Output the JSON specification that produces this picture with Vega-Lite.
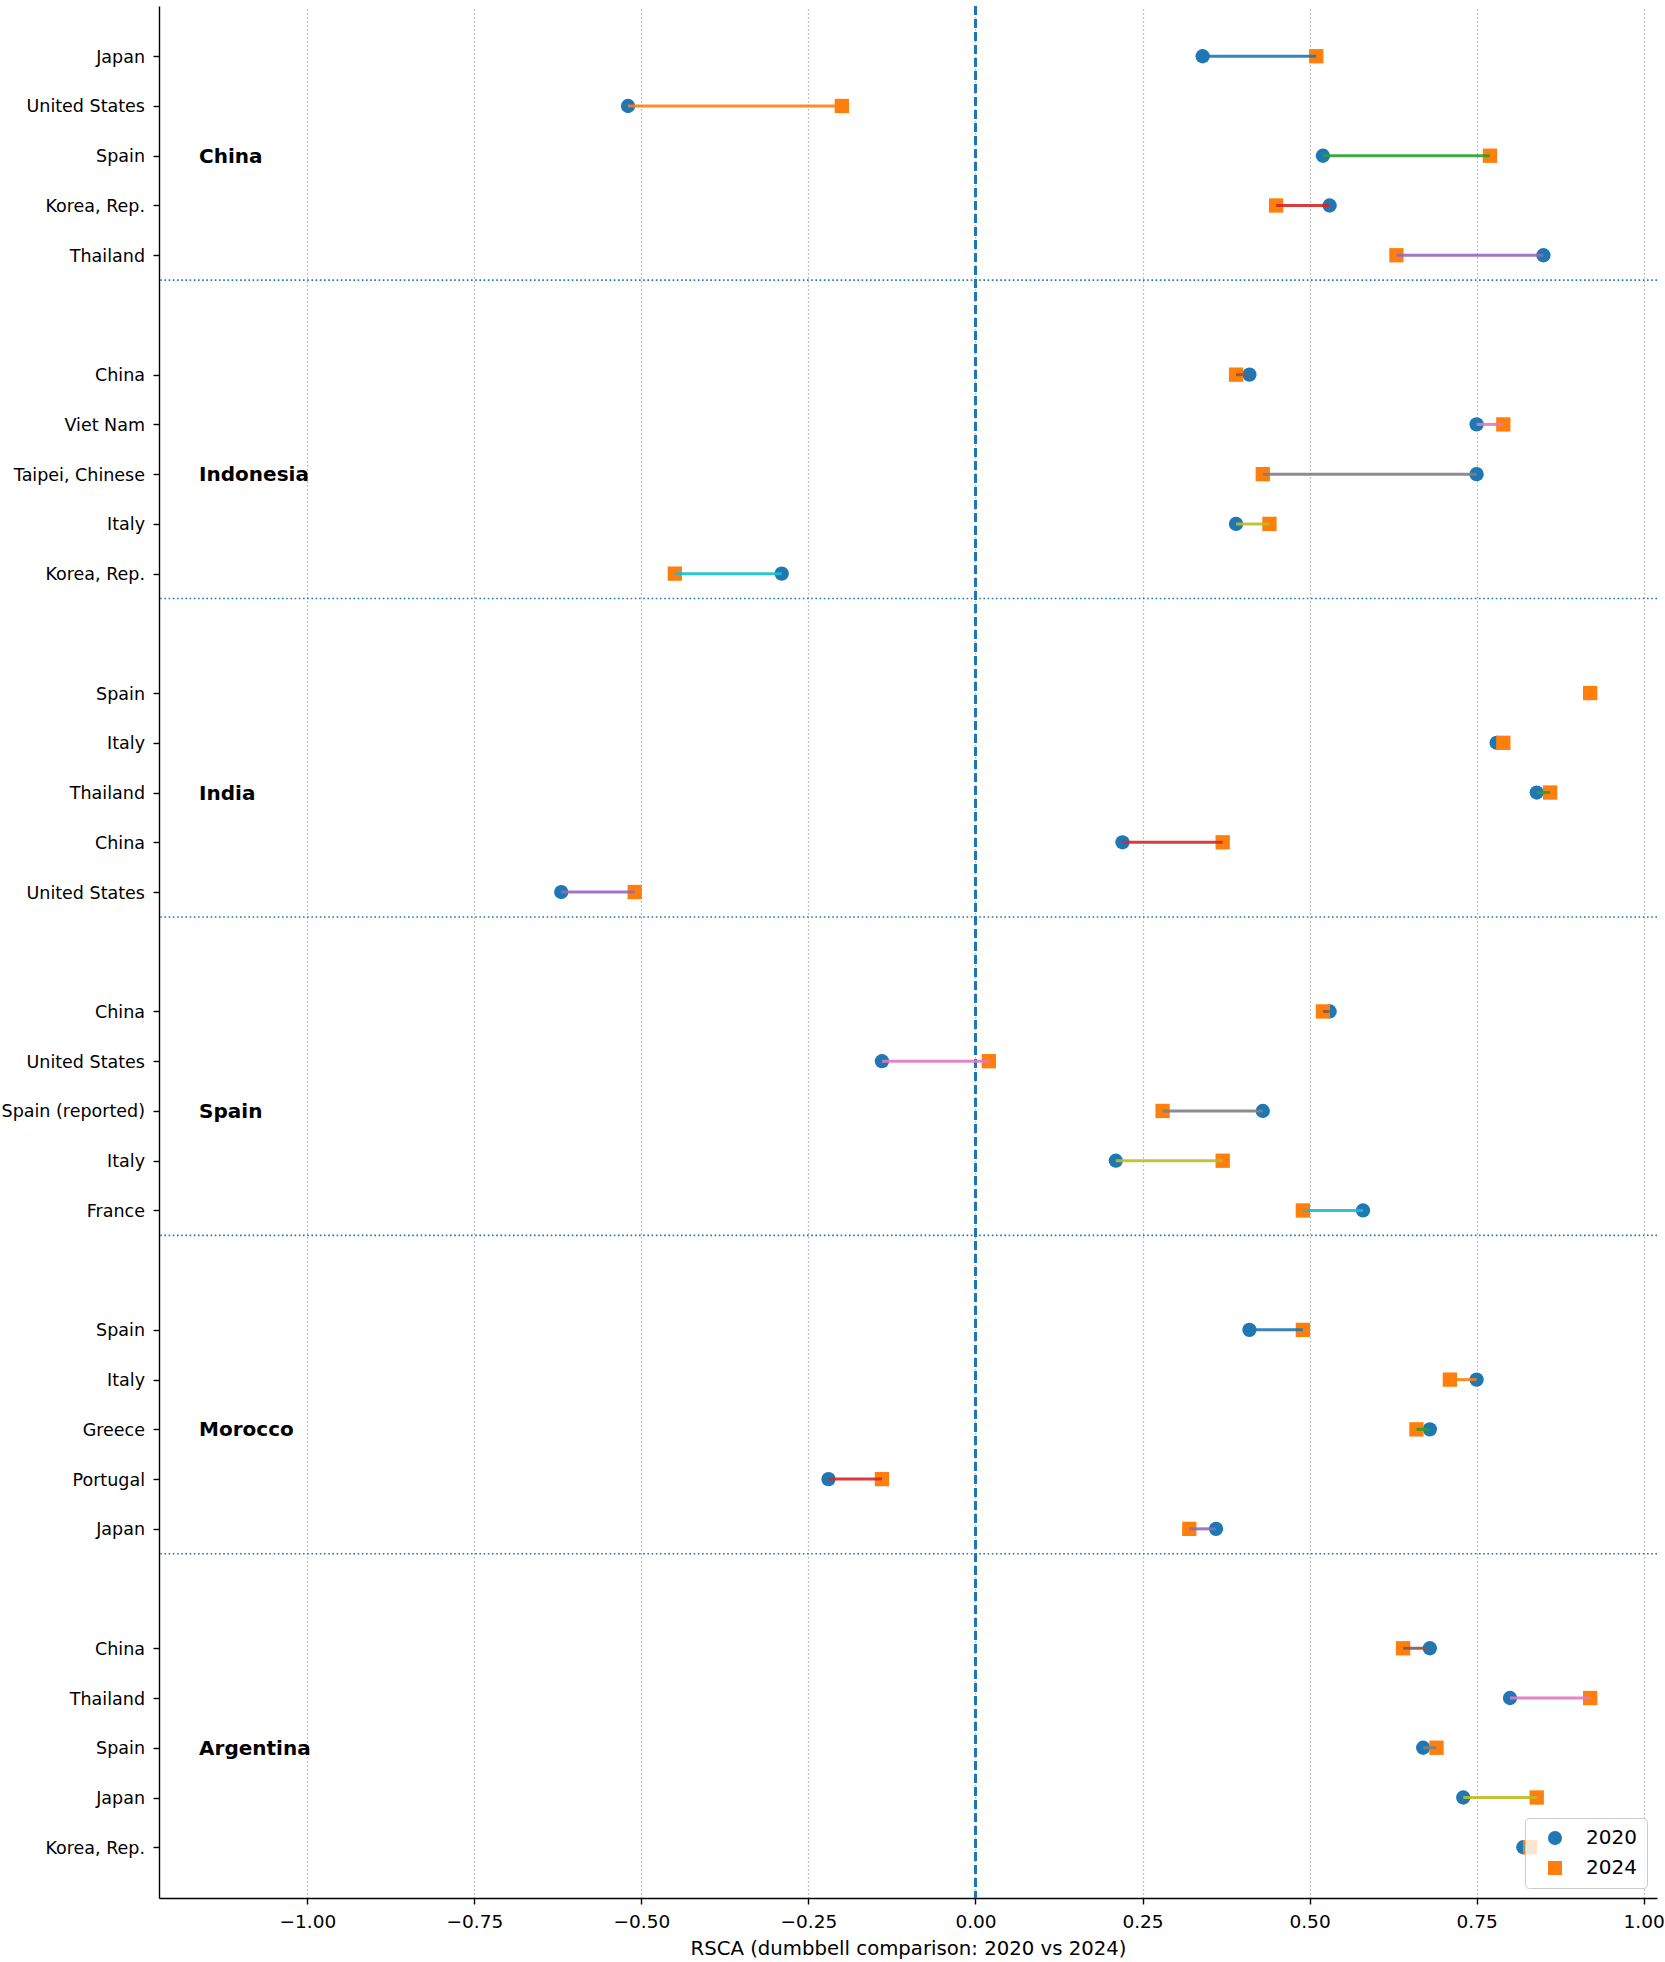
{
  "$schema": "https://vega.github.io/schema/vega-lite/v6.json",
  "width": 1498,
  "height": 1892,
  "autosize": {"type": "none"},
  "padding": {"left": 159, "top": 6, "right": 8, "bottom": 64},
  "background": "white",
  "config": {
    "font": "DejaVu Sans",
    "view": {"stroke": null},
    "legend": {
      "orient": "bottom-right",
      "offset": 10,
      "fillColor": "rgba(255,255,255,0.8)",
      "strokeColor": "#cccccc",
      "cornerRadius": 4,
      "padding": 10,
      "labelFontSize": 20,
      "labelColor": "black",
      "symbolSize": 196,
      "symbolOffset": 10,
      "labelOffset": 21,
      "rowPadding": 10,
      "symbolStrokeWidth": 0,
      "symbolOpacity": 1
    }
  },
  "data": {
    "values": [
      {"exporter": "China", "partner": "Japan", "2020": 0.34, "2024": 0.51},
      {"exporter": "China", "partner": "United States", "2020": -0.52, "2024": -0.20},
      {"exporter": "China", "partner": "Spain", "2020": 0.52, "2024": 0.77},
      {"exporter": "China", "partner": "Korea, Rep.", "2020": 0.53, "2024": 0.45},
      {"exporter": "China", "partner": "Thailand", "2020": 0.85, "2024": 0.63},
      {"exporter": "Indonesia", "partner": "China", "2020": 0.41, "2024": 0.39},
      {"exporter": "Indonesia", "partner": "Viet Nam", "2020": 0.75, "2024": 0.79},
      {"exporter": "Indonesia", "partner": "Taipei, Chinese", "2020": 0.75, "2024": 0.43},
      {"exporter": "Indonesia", "partner": "Italy", "2020": 0.39, "2024": 0.44},
      {"exporter": "Indonesia", "partner": "Korea, Rep.", "2020": -0.29, "2024": -0.45},
      {"exporter": "India", "partner": "Spain", "2020": 0.92, "2024": 0.92},
      {"exporter": "India", "partner": "Italy", "2020": 0.78, "2024": 0.79},
      {"exporter": "India", "partner": "Thailand", "2020": 0.84, "2024": 0.86},
      {"exporter": "India", "partner": "China", "2020": 0.22, "2024": 0.37},
      {"exporter": "India", "partner": "United States", "2020": -0.62, "2024": -0.51},
      {"exporter": "Spain", "partner": "China", "2020": 0.53, "2024": 0.52},
      {"exporter": "Spain", "partner": "United States", "2020": -0.14, "2024": 0.02},
      {"exporter": "Spain", "partner": "Spain (reported)", "2020": 0.43, "2024": 0.28},
      {"exporter": "Spain", "partner": "Italy", "2020": 0.21, "2024": 0.37},
      {"exporter": "Spain", "partner": "France", "2020": 0.58, "2024": 0.49},
      {"exporter": "Morocco", "partner": "Spain", "2020": 0.41, "2024": 0.49},
      {"exporter": "Morocco", "partner": "Italy", "2020": 0.75, "2024": 0.71},
      {"exporter": "Morocco", "partner": "Greece", "2020": 0.68, "2024": 0.66},
      {"exporter": "Morocco", "partner": "Portugal", "2020": -0.22, "2024": -0.14},
      {"exporter": "Morocco", "partner": "Japan", "2020": 0.36, "2024": 0.32},
      {"exporter": "Argentina", "partner": "China", "2020": 0.68, "2024": 0.64},
      {"exporter": "Argentina", "partner": "Thailand", "2020": 0.80, "2024": 0.92},
      {"exporter": "Argentina", "partner": "Spain", "2020": 0.67, "2024": 0.69},
      {"exporter": "Argentina", "partner": "Japan", "2020": 0.73, "2024": 0.84},
      {"exporter": "Argentina", "partner": "Korea, Rep.", "2020": 0.82, "2024": 0.83}
    ]
  },
  "transform": [
    {"window": [{"op": "row_number", "as": "n"}]},
    {"calculate": "floor((datum.n - 1) / 5)", "as": "grp"},
    {"calculate": "(datum.n - 1) % 5", "as": "slot"},
    {"calculate": "datum.grp * 6.4 + datum.slot", "as": "ypos"},
    {"calculate": "(datum.n - 1) % 10", "as": "hue"}
  ],
  "layer": [
    {
      "transform": [
        {"filter": "datum.slot == 4 && datum.grp < 5"},
        {"calculate": "datum.ypos + 0.5", "as": "sep"}
      ],
      "mark": {"type": "rule", "color": "#1f77b4", "strokeWidth": 1.6, "strokeDash": [1.6, 2.6]},
      "encoding": {
        "y": {"field": "sep", "type": "quantitative", "scale": {"domain": [-1.01, 37.02], "reverse": true, "nice": false, "zero": false}}
      }
    },
    {
      "mark": {"type": "rule", "color": "#1f77b4", "strokeWidth": 1.5, "strokeDash": [9, 4]},
      "encoding": {
        "x": {"datum": 0, "type": "quantitative"}
      }
    },
    {
      "transform": [
        {"fold": ["2020", "2024"], "as": ["year", "rsca"]}
      ],
      "mark": {"type": "point", "filled": true, "opacity": 1, "size": 205, "strokeWidth": 0},
      "encoding": {
        "x": {
          "field": "rsca",
          "type": "quantitative",
          "scale": {"domain": [-1.222, 1.02], "nice": false, "zero": false},
          "axis": {
            "values": [-1, -0.75, -0.5, -0.25, 0, 0.25, 0.5, 0.75, 1],
            "format": ".2f",
            "grid": true,
            "gridColor": "#b0b0b0",
            "gridDash": [1.5, 2.5],
            "gridWidth": 1.2,
            "labelFontSize": 18.5,
            "labelColor": "black",
            "labelPadding": 8,
            "tickColor": "black",
            "tickSize": 6,
            "tickWidth": 1.4,
            "domainColor": "black",
            "domainWidth": 1.4,
            "title": "RSCA (dumbbell comparison: 2020 vs 2024)",
            "titleFontSize": 19.7,
            "titleFontWeight": "normal",
            "titleColor": "black",
            "titlePadding": 8
          }
        },
        "y": {
          "field": "ypos",
          "type": "quantitative",
          "scale": {"domain": [-1.01, 37.02], "reverse": true, "nice": false, "zero": false},
          "axis": {
            "values": [0, 1, 2, 3, 4, 6.4, 7.4, 8.4, 9.4, 10.4, 12.8, 13.8, 14.8, 15.8, 16.8, 19.2, 20.2, 21.2, 22.2, 23.2, 25.6, 26.6, 27.6, 28.6, 29.6, 32, 33, 34, 35, 36],
            "labels": false,
            "grid": false,
            "title": null,
            "tickColor": "black",
            "tickSize": 6,
            "tickWidth": 1.4,
            "domainColor": "black",
            "domainWidth": 1.4
          }
        },
        "color": {
          "field": "year",
          "type": "nominal",
          "scale": {"domain": ["2020", "2024"], "range": ["#1f77b4", "#ff7f0e"]},
          "legend": {"title": null}
        },
        "shape": {
          "field": "year",
          "type": "nominal",
          "scale": {"domain": ["2020", "2024"], "range": ["circle", "square"]},
          "legend": {"title": null}
        }
      }
    },
    {
      "mark": {"type": "rule", "strokeWidth": 3, "opacity": 0.9},
      "encoding": {
        "x": {"field": "2020", "type": "quantitative"},
        "x2": {"field": "2024"},
        "y": {"field": "ypos", "type": "quantitative"},
        "stroke": {
          "field": "hue",
          "type": "nominal",
          "scale": {
            "domain": [0, 1, 2, 3, 4, 5, 6, 7, 8, 9],
            "range": ["#1f77b4", "#ff7f0e", "#2ca02c", "#d62728", "#9467bd", "#8c564b", "#e377c2", "#7f7f7f", "#bcbd22", "#17becf"]
          },
          "legend": null
        }
      }
    },
    {
      "mark": {"type": "text", "align": "right", "baseline": "middle", "dx": -14, "dy": 1.5, "fontSize": 17.5, "color": "black"},
      "encoding": {
        "x": {"datum": -1.222, "type": "quantitative"},
        "y": {"field": "ypos", "type": "quantitative"},
        "text": {"field": "partner"}
      }
    },
    {
      "transform": [{"filter": "datum.slot == 2"}],
      "mark": {"type": "text", "align": "left", "baseline": "middle", "dy": 1, "fontSize": 20, "fontWeight": "bold", "color": "black"},
      "encoding": {
        "x": {"datum": -1.162, "type": "quantitative"},
        "y": {"field": "ypos", "type": "quantitative"},
        "text": {"field": "exporter"}
      }
    }
  ]
}
